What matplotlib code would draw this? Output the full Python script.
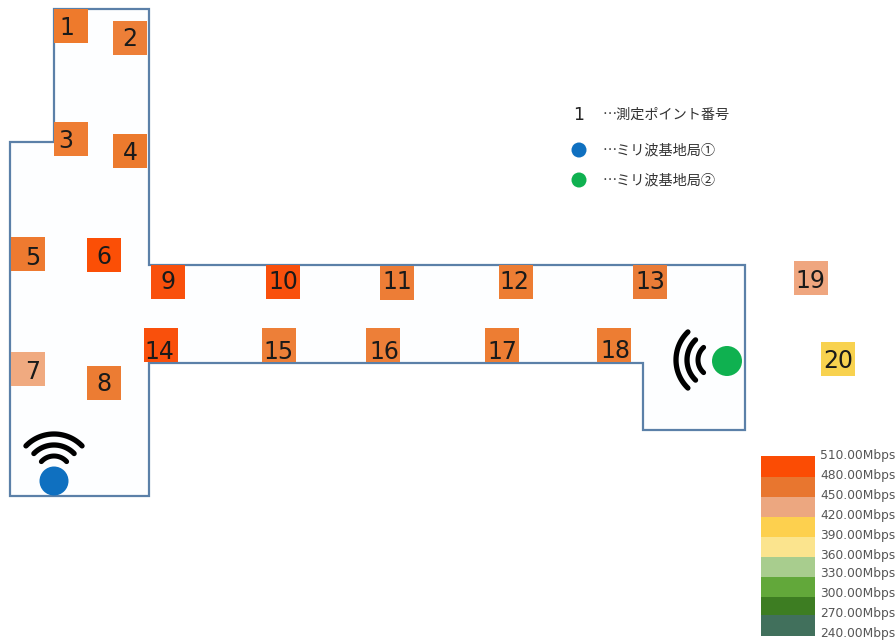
import numpy as np
import matplotlib
matplotlib.use("Agg")
import matplotlib.pyplot as plt
from matplotlib.patches import Rectangle, Circle, Polygon

# floor outline
wall_x = [54, 149, 149, 745, 745, 643, 643, 149, 149, 10, 10, 54]
wall_y = [9, 9, 265, 265, 430, 430, 363, 363, 496, 496, 142, 142]

# measurement points
point_ids = list(range(1, 21))
point_x = [71, 130, 71, 130, 28, 104, 28, 104, 168, 283, 397, 516, 650, 161, 279, 383, 502, 614, 811, 838]
point_y = [26, 38, 139, 151, 254, 255, 369, 383, 282, 282, 283, 282, 282, 345, 345, 345, 345, 345, 278, 359]
label_x = [67, 130, 66, 130, 33, 104, 33, 104, 168, 283, 397, 514, 650, 159, 278, 384, 502, 615, 810, 838]
label_y = [28, 39, 141, 153, 258, 257, 372, 384, 282, 282, 282, 282, 282, 352, 352, 352, 352, 351, 281, 361]
point_colors = ["#ee7a2c", "#ed7f38", "#ee7d33", "#ec7a2d", "#ee7a30", "#fb4f06", "#f0aa80", "#ec7c33", "#f9500c", "#f9500c",
                "#ed7d36", "#ed7d33", "#ea7c37", "#f9500c", "#ed7f38", "#ed7f38", "#ed7d33", "#ed7d33", "#efa67f", "#f8d24f"]

# colour scale
scale_labels = ["510.00Mbps", "480.00Mbps", "450.00Mbps", "420.00Mbps", "390.00Mbps",
                "360.00Mbps", "330.00Mbps", "300.00Mbps", "270.00Mbps", "240.00Mbps"]
scale_colors = ["#fb4c04", "#e8762f", "#eca780", "#fdd04e", "#fbe48e", "#a8cd8e", "#62a83a", "#3d7d22", "#41705c"]
scale_edges = [456, 477, 497, 517, 537, 557, 577, 597, 615, 636]
scale_label_y = [456, 476, 496, 516, 535, 555, 574, 594, 614, 633]

# legend
legend_texts = ["…測定ポイント番号", "…ミリ波基地局①", "…ミリ波基地局②"]
legend_y = [115, 150, 180]
station_colors = ["#0f70c0", "#0fb150"]

jp_font = ["Noto Sans CJK JP", "DejaVu Sans"]

fig = plt.figure(figsize=(8.96, 6.43), dpi=100)
ax = fig.add_axes([0, 0, 1, 1])
ax.set_xlim(0, 896)
ax.set_ylim(643, 0)
ax.axis("off")

ax.add_patch(Polygon(np.column_stack([wall_x, wall_y]), closed=True, facecolor="#fdfeff",
                     edgecolor="#5b80a8", linewidth=1.6, zorder=1))

for i, n in enumerate(point_ids):
    ax.add_patch(Rectangle((point_x[i] - 17, point_y[i] - 17), 34, 34, facecolor=point_colors[i],
                           edgecolor="none", zorder=2))
    ax.text(label_x[i], label_y[i], str(n), ha="center", va="center", fontsize=17, color="#1a1a1a", zorder=4)


def draw_arcs(cx, cy, mid_angle):
    # wifi icon, three arcs around mid_angle
    for r, lw, span in [(39, 3.8, 46), (28, 3.8, 46), (17, 3.6, 48)]:
        t = np.radians(np.linspace(mid_angle - span, mid_angle + span, 40))
        ax.plot(cx + r * np.cos(t), cy - r * np.sin(t), color="black", linewidth=lw,
                solid_capstyle="round", zorder=3)


draw_arcs(54, 473, 90)
draw_arcs(715, 360, 180)
ax.add_patch(Circle((54, 481), 14.5, facecolor=station_colors[0], edgecolor="none", zorder=4))
ax.add_patch(Circle((727, 361), 15, facecolor=station_colors[1], edgecolor="none", zorder=4))

# legend
ax.text(579, 115, "1", ha="center", va="center", fontsize=12.5, color="#222222")
ax.add_patch(Circle((579, 150), 7.5, facecolor=station_colors[0], edgecolor="none"))
ax.add_patch(Circle((579, 180), 7.5, facecolor=station_colors[1], edgecolor="none"))
for txt, y in zip(legend_texts, legend_y):
    ax.text(603, y, txt, ha="left", va="center", fontsize=10.2, color="#333333", family=jp_font)

# colour bar
for i, c in enumerate(scale_colors):
    ax.add_patch(Rectangle((761, scale_edges[i]), 54, scale_edges[i + 1] - scale_edges[i],
                           facecolor=c, edgecolor="none", zorder=2))
for txt, y in zip(scale_labels, scale_label_y):
    ax.text(820, y, txt, ha="left", va="center", fontsize=8.8, color="#555555")

fig.savefig("out.png", dpi=100)
